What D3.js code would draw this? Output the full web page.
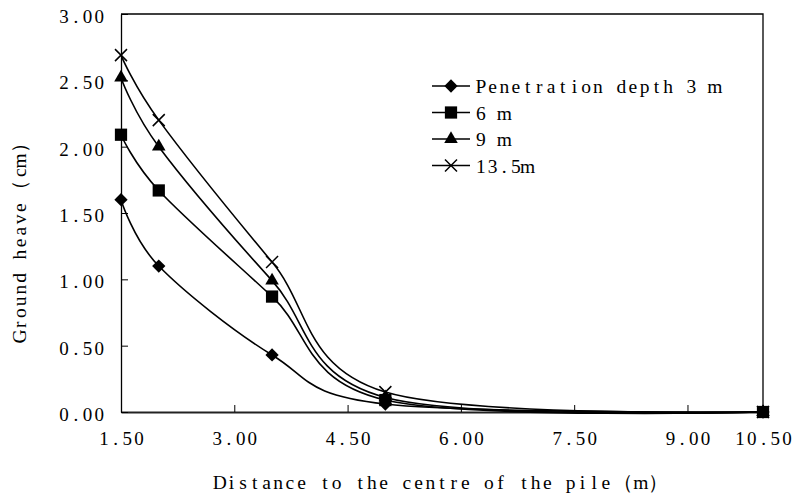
<!DOCTYPE html>
<html><head><meta charset="utf-8">
<script src="https://cdn.jsdelivr.net/npm/d3@7"></script>
<style>body{margin:0;background:#fff}svg{display:block}</style>
</head><body>
<svg id="c" width="800" height="497"></svg>
<script>
const distances = [1.5, 2, 3.5, 5, 10];
const depth3 = [1.60, 1.10, 0.43, 0.06, 0];
const depth6 = [2.09, 1.67, 0.87, 0.09, 0];
const depth9 = [2.52, 2.00, 0.99, 0.11, 0];
const depth13_5 = [2.69, 2.20, 1.13, 0.15, 0];
const seriesNames = ["Penetration depth 3 m", "6 m", "9 m", "13.5m"];
const seriesMarkers = ["diamond", "square", "triangle", "cross"];
const xTickValues = [1.5, 3, 4.5, 6, 7.5, 9, 10];
const xTickLabels = ["1.50", "3.00", "4.50", "6.00", "7.50", "9.00", "10.50"];
const yTickValues = [0, 0.5, 1, 1.5, 2, 2.5, 3];
const yTickLabels = ["0.00", "0.50", "1.00", "1.50", "2.00", "2.50", "3.00"];
const xTitle = "Distance to the centre of the pile（m）";
const yTitle = "Ground heave（cm）";

const seriesValues = [depth3, depth6, depth9, depth13_5];
const FONT = "'Liberation Serif', 'DejaVu Serif', serif";
const HW = 11.7; // half-width cell (px)
const cellW = c => (c.charCodeAt(0) > 0xff ? 2 : 1) * HW;

// lay characters out in fixed cells, like a CJK typeface's half-width Latin
function mono(sel, align) {
  sel.each(function() {
    const t = d3.select(this);
    const s = this.textContent;
    const x0 = +(t.attr("x") || 0);
    const chars = Array.from(s);
    const total = chars.reduce((a, c) => a + cellW(c), 0);
    let start = align === "middle" ? x0 - total / 2 : align === "end" ? x0 - total : x0;
    t.text(null).attr("text-anchor", "middle");
    chars.forEach(c => {
      const w = cellW(c);
      if (c !== " ") t.append("tspan").attr("x", start + w / 2).text(c);
      start += w;
    });
  });
}

const svg = d3.select("#c");
const L = 121, R = 763, T = 14, B = 412;
const x = d3.scaleLinear().domain([1.5, 10]).range([L, R]);
const y = d3.scaleLinear().domain([0, 3]).range([B, T]);

svg.append("path").attr("d", `M${L},${T}H${R}V${B}`).attr("fill", "none").attr("stroke", "#000").attr("stroke-width", 1.3);

const xAxis = svg.append("g").attr("transform", `translate(0,${B})`)
  .call(d3.axisBottom(x).tickValues(xTickValues).tickSizeInner(-7).tickSizeOuter(0)
    .tickFormat((d, i) => xTickLabels[i]));
xAxis.select(".domain").attr("stroke", "#222").attr("stroke-width", 2);
xAxis.selectAll(".tick line").attr("stroke", "#000");
xAxis.selectAll("text").attr("font-family", FONT).attr("font-size", 19).attr("fill", "#000").attr("y", 20).attr("dy", "0.71em").attr("x", 0).call(mono, "middle");

const yAxis = svg.append("g").attr("transform", `translate(${L},0)`)
  .call(d3.axisLeft(y).tickValues(yTickValues).tickSizeInner(-7).tickSizeOuter(0)
    .tickFormat((d, i) => yTickLabels[i]));
yAxis.select(".domain").attr("stroke", "#000").attr("stroke-width", 1.3);
yAxis.selectAll(".tick line").attr("stroke", "#000");
yAxis.selectAll("text").attr("font-family", FONT).attr("font-size", 19).attr("fill", "#000").attr("x", -16).attr("dy", "0.45em").call(mono, "end");

svg.append("text").attr("x", (L + R) / 2).attr("y", 489)
  .attr("font-family", FONT).attr("font-size", 19.5).text(xTitle).call(mono, "middle");
svg.append("g").attr("transform", "translate(26,237) rotate(-90)").append("text").attr("x", 0).attr("y", 0)
  .attr("font-family", FONT).attr("font-size", 19.5).text(yTitle).call(mono, "middle");

const line = d3.line().x(d => x(d[0])).y(d => y(d[1])).curve(d3.curveCardinal.tension(0));

function marker(g, type) {
  if (type === "diamond") g.append("path").attr("d", d3.symbol(d3.symbolSquare, 88)()).attr("transform", "rotate(45)").attr("fill", "#000");
  else if (type === "square") g.append("path").attr("d", d3.symbol(d3.symbolSquare, 150)()).attr("fill", "#000");
  else if (type === "triangle") g.append("path").attr("d", d3.symbol(d3.symbolTriangle, 80)()).attr("fill", "#000");
  else g.append("path").attr("d", "M-6,-6L6,6M-6,6L6,-6").attr("stroke", "#000").attr("stroke-width", 1.5).attr("fill", "none");
}

seriesValues.forEach((vals) => {
  const pts = distances.map((d, i) => [d, vals[i]]);
  svg.append("path").datum(pts).attr("d", line).attr("fill", "none").attr("stroke", "#000").attr("stroke-width", 1.6);
});
seriesValues.forEach((vals, si) => {
  distances.forEach((d, i) => {
    const g = svg.append("g").attr("transform", `translate(${x(d)},${y(vals[i])})`);
    marker(g, seriesMarkers[si]);
  });
});

const leg = svg.append("g");
seriesNames.forEach((name, i) => {
  const cy = 86 + i * 26.5;
  leg.append("line").attr("x1", 432).attr("x2", 470).attr("y1", cy).attr("y2", cy).attr("stroke", "#000").attr("stroke-width", 1.6);
  marker(leg.append("g").attr("transform", `translate(451,${cy})`), seriesMarkers[i]);
  leg.append("text").attr("x", 475).attr("y", cy).attr("dy", "0.36em").attr("font-family", FONT).attr("font-size", 19.5).text(name).call(mono, "start");
});
</script>
</body></html>
